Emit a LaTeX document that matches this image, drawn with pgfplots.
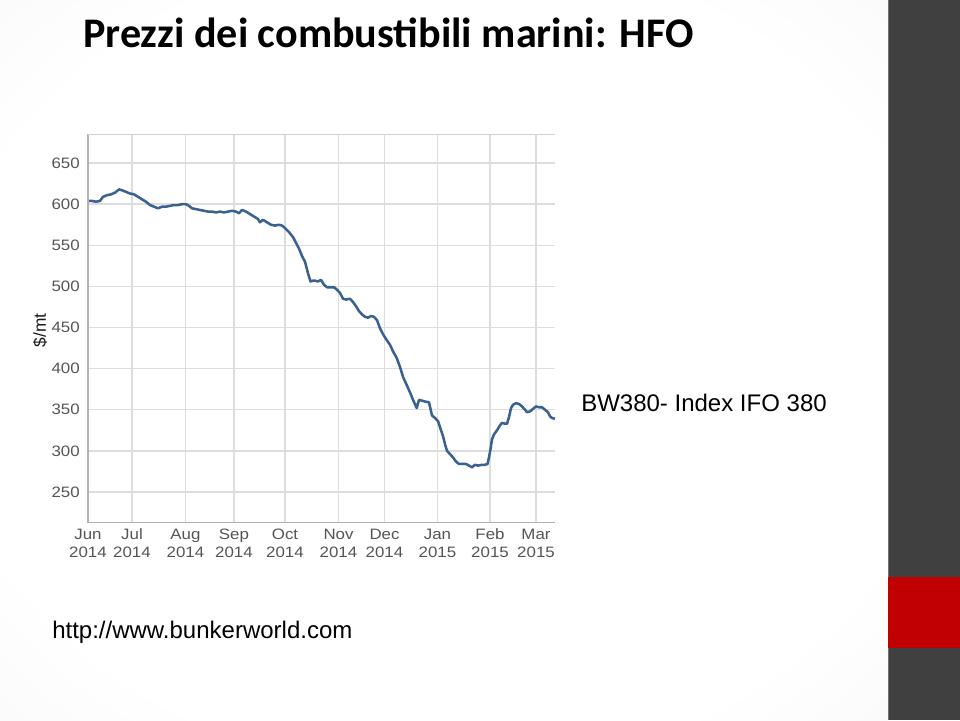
\documentclass[border=0pt]{standalone}
\usepackage{pgfplots}
\pgfplotsset{compat=1.18}
\usepackage{fontspec}
\setmainfont{Liberation Sans}
\newfontfamily\carlito{Carlito}
\newfontfamily\tickfont[FakeStretch=1.12]{Liberation Sans}
\definecolor{gridc}{HTML}{DDDDDD}
\definecolor{lineblue}{HTML}{3A6190}
\definecolor{ticktext}{HTML}{555555}
\definecolor{band}{HTML}{404040}
\definecolor{redblk}{HTML}{C00000}
\pgfdeclareradialshading{vignette}{\pgfpoint{0bp}{0bp}}{color(0bp)=(white); color(28bp)=(white); color(50bp)=(black!5); color(71bp)=(black!17)}

\pgfplotstableread{
x y
88 604
92 604
96 603
100 604
103 609
107 611
111 612
115 614
119 618
122 617
126 615
130 613
134 612
138 609
142 606
146 603
150 599
154 597
158 595
162 597
166 597
170 598
174 599
178 599
182 600
186 600
189 598
192 595
196 594
200 593
204 592
208 591
212 591
216 590
220 591
224 590
228 591
232 592
236 591
239 589
242 593
246 591
250 588
254 585
258 582
260 578
263 581
267 578
271 575
275 574
279 575
282 574
285 571
289 566
293 560
296 553
299 546
302 537
305 530
308 516
310.5 506
313 507
315 507
318 506
321 508
324 502
327 499
331 499
334 499
337 496
340 492
343 485
346 484
350 485
353 481
356 476
359 470
362 466
365 463
368 462
371 464
374 463
377 459
380 449
383 442
386 436
390 429
393 421
396.7 413
400 402
403 390
406 382
410 371
413 362
416.7 352
419 362
422 361
425 360
429 359
432 343
435 340
438 336
441 325
443 318
445 308
447 300
450 296
453 292
456 287
459 284
463 284
466 284
469 282
472 280
475 283
478 282
482 283
485 283
487.5 284
489 292
490.5 302
492 314
494 320
497 325
500 331
502 334
505 333
507 333
509 341
511 352
513 356
516 358
519 357
522 354
525 350
527 347
530 348
533 351
536 354
539 353
542 353
545 350
548 347
550 342
552 340
555 339
}\bwdata

\begin{document}
\begin{tikzpicture}
% slide background
\shade[shading=vignette] (0,0) rectangle (666pt,-540pt);
\fill[band] (666pt,0) rectangle (720pt,-540pt);
\draw[black!55, line width=0.5pt] (666.3pt,0) -- (666.3pt,-540pt);
\fill[redblk] (666pt,-432.75pt) rectangle (720pt,-486pt);

% title
\node[anchor=base west, inner sep=0pt, font=\carlito\bfseries\fontsize{31.6pt}{38pt}\selectfont] at (62.25pt,-35.25pt) {Prezzi dei combustibili marini: HFO};

\begin{axis}[
  at={(66pt,-100.5pt)}, anchor=north west,
  scale only axis, width=350.25pt, height=291pt,
  xmin=88, xmax=555, ymin=213, ymax=685,
  xtick={88,132,185.5,234,285,338.5,384.5,437.5,490,536},
  xticklabels={\strut Jun\\2014,\strut Jul\\2014,\strut Aug\\2014,\strut Sep\\2014,\strut Oct\\2014,\strut Nov\\2014,\strut Dec\\2014,\strut Jan\\2015,\strut Feb\\2015,\strut Mar\\2015},
  ytick={250,300,...,650},
  grid=major,
  major grid style={gridc, line width=1.1pt},
  major tick length=0pt,
  axis line style={draw=none},
  /pgf/number format/assume math mode=true,
  ticklabel style={color=ticktext, font=\tickfont\fontsize{11.3pt}{13.8pt}\selectfont},
  xticklabel style={align=center, anchor=north, inner sep=0pt, yshift=-3pt},
  yticklabel style={anchor=east, inner sep=0pt, xshift=-6pt},
  clip=false,
]
\addplot[lineblue, line width=1.9pt, line join=round] table[x=x, y=y] {\bwdata};
\draw[black!30, line width=0.9pt] (rel axis cs:0,1) -- (rel axis cs:0,0) -- (rel axis cs:1,0);
\draw[black!18, line width=0.9pt] (rel axis cs:0,1) -- (rel axis cs:1,1);
\end{axis}

% y label
\node[rotate=90, font=\fontsize{13pt}{15pt}\selectfont, color=black!90] at (30pt,-247.5pt) {\$/mt};

% text boxes
\node[anchor=base west, inner sep=0pt, font=\fontsize{18pt}{22pt}\selectfont] at (435.75pt,-308.25pt) {BW380- Index IFO 380};
\node[anchor=base west, inner sep=0pt, font=\fontsize{18pt}{22pt}\selectfont] at (39pt,-478.5pt) {http://www.bunkerworld.com};
\end{tikzpicture}
\end{document}
